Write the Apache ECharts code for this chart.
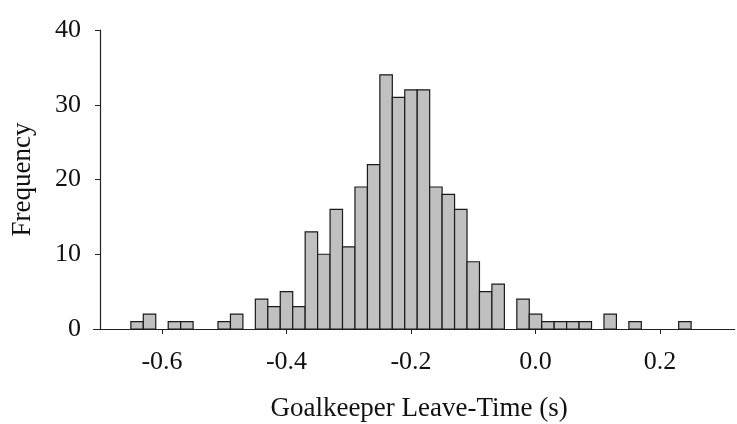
<!DOCTYPE html>
<html><head><meta charset="utf-8">
<script src="https://cdn.jsdelivr.net/npm/echarts@6/dist/echarts.min.js"></script>
<style>html,body{margin:0;padding:0;background:#fff}#c{width:737px;height:424px}</style>
</head><body><div id="c"></div>
<script>
const binCenters = [-0.64,-0.62,-0.60,-0.58,-0.56,-0.54,-0.52,-0.50,-0.48,-0.46,-0.44,-0.42,-0.40,-0.38,-0.36,-0.34,-0.32,-0.30,-0.28,-0.26,-0.24,-0.22,-0.20,-0.18,-0.16,-0.14,-0.12,-0.10,-0.08,-0.06,-0.04,-0.02,0.00,0.02,0.04,0.06,0.08,0.10,0.12,0.14,0.16,0.18,0.20,0.22,0.24];
const counts     = [1,2,0,1,1,0,0,1,2,0,4,3,5,3,13,10,16,11,19,22,34,31,32,32,19,18,16,9,5,6,0,4,2,1,1,1,1,0,2,0,1,0,0,0,1];
const binWidth = 0.02;
const xTickValues = [-0.6,-0.4,-0.2,0.0,0.2];
const yTickValues = [0,10,20,30,40];
const xTitle = 'Goalkeeper Leave-Time (s)';
const yTitle = 'Frequency';

const data = binCenters.map((c,i)=>[c,counts[i]]);
const font = 'Liberation Serif';
const chart = echarts.init(document.getElementById('c'));
chart.setOption({
  backgroundColor:'#fff',
  animation:false,
  grid:{left:93.5,right:2.3,top:30,bottom:95,containLabel:false,outerBoundsMode:'none'},
  xAxis:{
    type:'value',min:-0.71,max:0.32,
    axisLine:{show:true,onZero:false,lineStyle:{color:'#222',width:1.2}},
    axisTick:{show:true,length:5,customValues:xTickValues,lineStyle:{color:'#222'}},
    axisLabel:{customValues:xTickValues,formatter:v=>v.toFixed(1),margin:20,fontFamily:font,fontSize:26,color:'#111'},
    splitLine:{show:false},
    name:xTitle,nameLocation:'middle',nameGap:66,
    nameTextStyle:{fontFamily:font,fontSize:27,color:'#111',padding:[0,0,0,10]}
  },
  yAxis:{
    type:'value',min:0,max:40,interval:10,offset:-6.5,
    axisLine:{show:true,onZero:false,lineStyle:{color:'#222',width:1.2}},
    axisTick:{show:true,length:5,customValues:yTickValues,lineStyle:{color:'#222'}},
    axisLabel:{customValues:yTickValues,margin:19,fontFamily:font,fontSize:26,color:'#111'},
    splitLine:{show:false},
    name:yTitle,nameLocation:'middle',nameGap:64,
    nameTextStyle:{fontFamily:font,fontSize:27,color:'#111'}
  },
  series:[{
    type:'custom',
    data:data,
    encode:{x:0,y:1},
    renderItem:function(params,api){
      const x=api.value(0), y=api.value(1);
      if(!y) return null;
      const p0=api.coord([x-binWidth/2,y]);
      const p1=api.coord([x+binWidth/2,0]);
      return {type:'rect',shape:{x:p0[0],y:p0[1],width:p1[0]-p0[0],height:p1[1]-p0[1]},
        style:{fill:'#c0c0c0',stroke:'#1a1a1a',lineWidth:1.2}};
    }
  }]
});
</script></body></html>
